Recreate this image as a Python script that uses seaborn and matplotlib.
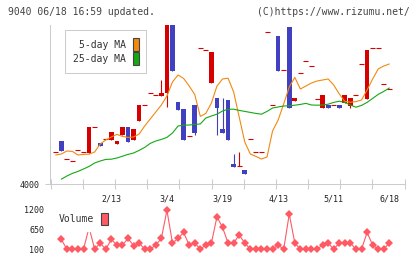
import numpy as np
import matplotlib
matplotlib.use("Agg")
import matplotlib.pyplot as plt
import seaborn as sns
from matplotlib.patches import Patch

# ==========================
# data
# ==========================
# candle slots; slot -1 has no volume point
day = list(range(-1, 60))

open_ = [4158, 4215, 4123, 4113, 4168, 4158, 4156, 4283, 4206, 4223,
         4220, 4201, 4245, 4285, 4220, 4316, 4395, 4453, 4443, 4440,
         4453, 4820, 4410, 4375, 4238, 4395, 4678, 4668, 4506, 4430,
         4275, 4420, 4100, 4090, 4070, 4225, 4158, 4158, 4758, 4393,
         4740, 4568, 4785, 4416, 4553, 4613, 4588, 4426, 4381, 4395,
         4393, 4395, 4406, 4391, 4443, 4600, 4426, 4678, 4678, 4498,
         4473]
high = [4158, 4215, 4123, 4113, 4168, 4158, 4286, 4283, 4206, 4223,
        4260, 4216, 4285, 4285, 4275, 4395, 4395, 4453, 4443, 4520,
        4820, 4820, 4410, 4375, 4238, 4395, 4678, 4668, 4660, 4430,
        4430, 4420, 4150, 4160, 4070, 4225, 4158, 4158, 4758, 4393,
        4740, 4568, 4785, 4430, 4553, 4613, 4588, 4426, 4445, 4395,
        4393, 4395, 4445, 4430, 4443, 4600, 4670, 4678, 4678, 4498,
        4473]
low = [4158, 4165, 4123, 4113, 4168, 4158, 4156, 4283, 4191, 4223,
       4220, 4201, 4245, 4210, 4220, 4316, 4395, 4453, 4443, 4440,
       4383, 4566, 4370, 4220, 4238, 4246, 4678, 4668, 4506, 4246,
       4255, 4220, 4086, 4090, 4050, 4225, 4158, 4158, 4758, 4393,
       4566, 4568, 4381, 4416, 4553, 4613, 4588, 4426, 4381, 4381,
       4393, 4381, 4406, 4381, 4443, 4600, 4426, 4678, 4678, 4498,
       4473]
close = [4158, 4165, 4123, 4113, 4168, 4158, 4286, 4283, 4191, 4223,
         4260, 4216, 4285, 4210, 4275, 4395, 4395, 4453, 4443, 4455,
         4820, 4566, 4370, 4220, 4238, 4255, 4678, 4668, 4660, 4380,
         4255, 4220, 4086, 4090, 4050, 4225, 4158, 4158, 4758, 4393,
         4566, 4568, 4381, 4430, 4553, 4613, 4588, 4426, 4445, 4381,
         4393, 4381, 4445, 4430, 4443, 4600, 4670, 4678, 4678, 4498,
         4473]

ma5 = [4145, 4150, 4165, 4163, 4145, 4148, 4149, 4160, 4200, 4220,
       4235, 4248, 4238, 4233, 4235, 4250, 4290, 4325, 4360, 4395,
       4440, 4510, 4545, 4528, 4490, 4448, 4338, 4353, 4405, 4490,
       4525, 4529, 4460, 4335, 4210, 4150, 4138, 4125, 4135, 4265,
       4320, 4400, 4485, 4533, 4475, 4490, 4505, 4515, 4520, 4525,
       4495, 4450, 4413, 4409, 4412, 4420, 4470, 4525, 4575, 4590,
       4600]
ma25_day = list(range(0, 60))
ma25 = [4024, 4040, 4053, 4063, 4075, 4088, 4105, 4115, 4123, 4124,
        4130, 4139, 4148, 4155, 4168, 4183, 4203, 4215, 4223, 4233,
        4255, 4290, 4294, 4295, 4298, 4300, 4330, 4340, 4349, 4365,
        4374, 4374, 4368, 4363, 4358, 4353, 4349, 4363, 4380, 4385,
        4390, 4391, 4394, 4398, 4403, 4395, 4394, 4395, 4399, 4408,
        4414, 4408, 4395, 4384, 4393, 4408, 4428, 4448, 4463, 4480]

vol_day = list(range(0, 60))
volume = [370, 100, 100, 100, 100, 700, 100, 270, 100, 370,
          215, 215, 395, 200, 270, 100, 100, 215, 395, 1170,
          270, 395, 560, 215, 270, 100, 215, 270, 990, 700,
          270, 270, 490, 270, 100, 100, 100, 100, 100, 215,
          100, 1065, 270, 100, 100, 100, 100, 215, 270, 100,
          270, 270, 270, 100, 100, 560, 215, 100, 100, 270]

label_day = [9, 19, 29, 39, 49, 59]
label_txt = ['2/13', '3/4', '3/19', '4/13', '5/11', '6/18']

# ==========================
# style
# ==========================
sns.set_theme(style='white')
plt.rcParams['font.family'] = ['DejaVu Sans Mono']

RED = '#d60000'
BLUE = '#4040c0'
ORANGE = '#f08a10'
GREEN = '#14a814'
VOLC = '#ff5a64'
GRAY = '#cccccc'
TXT = '#333333'

W, H = 420, 259
fig = plt.figure(figsize=(W / 100, H / 100), dpi=100)
ax = fig.add_axes([50 / W, (H - 184) / H, 355 / W, 159 / H])
axv = fig.add_axes([50 / W, (H - 256) / H, 355 / W, 53 / H])

x0, x1 = -2.03, 61.82

# ==========================
# candles
# ==========================
d = np.array(day)
o = np.array(open_)
c = np.array(close)
hi = np.array(high)
lo = np.array(low)
col = np.where(c < o, BLUE, RED)

wick = hi > lo
ax.vlines(d[wick], lo[wick], hi[wick], colors=col[wick], lw=0.8, zorder=2)
body = c != o
ax.bar(d[body], (c - o)[body], bottom=o[body], width=0.85, color=col[body],
       linewidth=0, zorder=3)
doji = ~body
ax.hlines(c[doji], d[doji] - 0.45, d[doji] + 0.45, colors=RED, lw=0.8, zorder=3)

sns.lineplot(x=day, y=ma5, ax=ax, color=ORANGE, lw=0.8, zorder=4)
sns.lineplot(x=ma25_day, y=ma25, ax=ax, color=GREEN, lw=0.8, zorder=4)

ax.set_xlim(x0, x1)
ax.set_ylim(4000, 4795)
ax.set_xlabel('')
ax.set_ylabel('')
for s in ['top', 'right']:
    ax.spines[s].set_visible(False)
for s in ['left', 'bottom']:
    ax.spines[s].set_color(GRAY)
    ax.spines[s].set_linewidth(0.75)

ax.set_xticks(np.linspace(x0 + 0.13, x1 - 0.06, 12))
ax.tick_params(axis='x', which='major', bottom=True, direction='inout',
               length=6.5, width=0.75, color=GRAY, labelbottom=False)
ax.set_xticks(label_day, minor=True)
ax.set_xticklabels(label_txt, minor=True)
ax.tick_params(axis='x', which='minor', bottom=True, length=0, pad=7.5,
               labelsize=6, labelcolor='#222222')
ax.set_yticks([4000])
ax.set_yticklabels(['4000'])
ax.tick_params(axis='y', left=True, direction='out', length=3.6, width=0.75,
               color=GRAY, labelsize=6, labelcolor='#222222', pad=4)

leg = ax.legend(handles=[Patch(facecolor=ORANGE, edgecolor='#444444', lw=0.8, label='5-day MA'),
                         Patch(facecolor=GREEN, edgecolor='#444444', lw=0.8, label='25-day MA')],
                loc='upper left', bbox_to_anchor=(15 / 355, 154 / 159),
                bbox_transform=ax.transAxes, borderaxespad=0, markerfirst=False,
                fontsize=7, handlelength=0.62, handleheight=1.7, handletextpad=0.72,
                labelspacing=0.15, borderpad=0.8, fancybox=False,
                edgecolor=GRAY, framealpha=1)
leg.get_frame().set_linewidth(0.75)
for t in leg.get_texts():
    t.set_color(TXT)

# ==========================
# volume
# ==========================
sns.lineplot(x=vol_day, y=volume, ax=axv, color=VOLC, lw=0.8, marker='D',
             markersize=3.6, markeredgewidth=0, zorder=2)
axv.set_xlim(x0, x1)
axv.set_ylim(-87, 1370)
axv.set_xlabel('')
axv.set_ylabel('')
axv.set_xticks([])
axv.set_yticks([100, 650, 1200])
axv.set_yticklabels(['100', '650', '1200'])
axv.tick_params(axis='y', left=False, length=0, labelsize=6,
                labelcolor='#222222', pad=4.1)
for s in axv.spines.values():
    s.set_visible(False)
axv.patch.set_alpha(0)

vleg = axv.legend(handles=[Patch(facecolor=VOLC, edgecolor='#444444', lw=0.8, label='Volume')],
                  loc='upper left', bbox_to_anchor=(3 / 355, 49 / 53),
                  bbox_transform=axv.transAxes, borderaxespad=0, markerfirst=False,
                  fontsize=7, handlelength=0.72, handleheight=1.55, handletextpad=0.69,
                  borderpad=0.6, fancybox=False, edgecolor='white', framealpha=1)
vleg.set_zorder(5)
for t in vleg.get_texts():
    t.set_color(TXT)

# ==========================
# header
# ==========================
fig.text(8 / W, 1 - 12 / H, '9040 06/18 16:59 updated.', ha='left', va='center',
         fontsize=7, color='#444444')
fig.text(410 / W, 1 - 12 / H, '(C)https://www.rizumu.net/', ha='right', va='center',
         fontsize=7, color='#444444')

fig.savefig('out.png', dpi=100)
